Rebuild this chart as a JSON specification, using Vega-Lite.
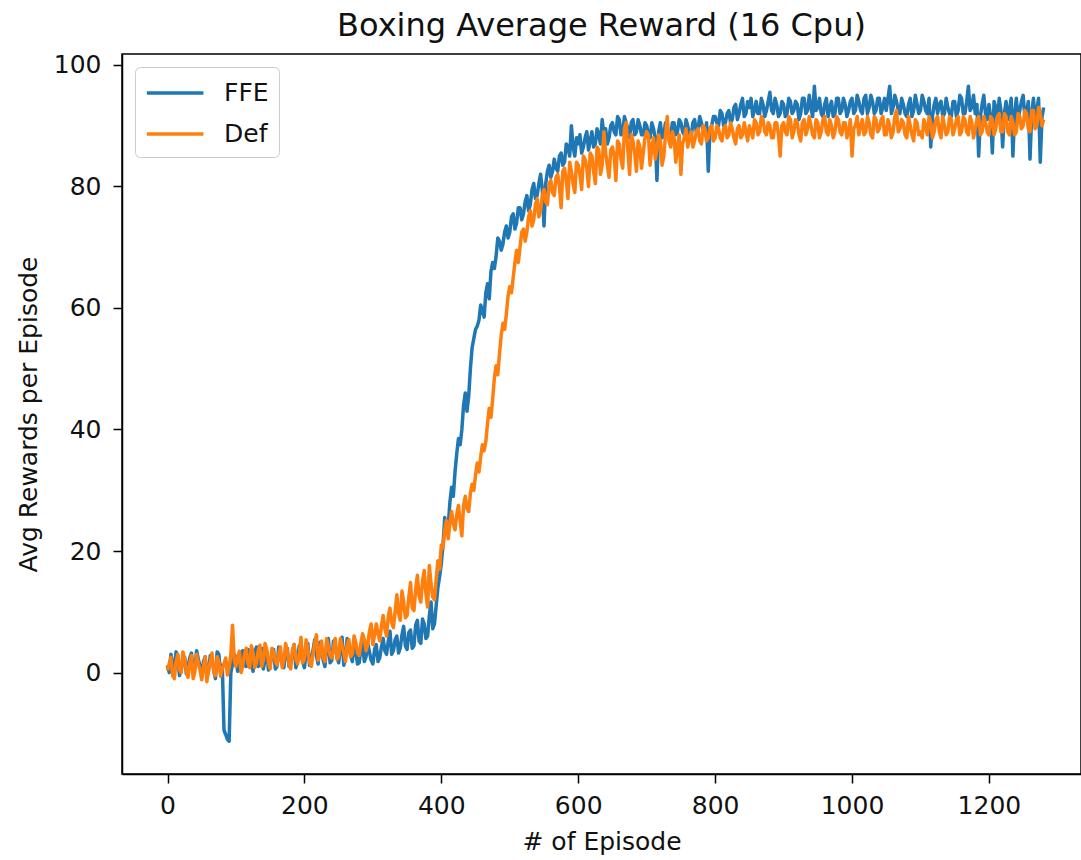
{
"$schema": "https://vega.github.io/schema/vega-lite/v6.json",
"width": 959,
"height": 720,
"autosize": {"type": "none"},
"padding": {"left": 122, "top": 54, "right": 0, "bottom": 86},
"background": "white",
"title": {"text": "Boxing Average Reward (16 Cpu)", "font": "DejaVu Sans", "fontSize": 32, "fontWeight": "normal", "color": "#111", "anchor": "middle", "baseline": "alphabetic", "offset": 17, "dy": 32},
"config": {
  "view": {"stroke": "#000", "strokeWidth": 1.5},
  "axis": {"grid": false, "domainColor": "#000", "domainWidth": 1.5, "tickColor": "#000", "tickWidth": 1.5, "tickSize": 9, "labelFont": "DejaVu Sans", "labelFontSize": 25, "labelColor": "#111", "titleFont": "DejaVu Sans", "titleFontSize": 25, "titleFontWeight": "normal", "titleColor": "#111"},
  "legend": {"labelFont": "DejaVu Sans", "labelFontSize": 25, "labelColor": "#111"}
},
"data": {"values": [
{"e":0,"FFE":1.2,"Def":0.3},{"e":5,"FFE":3.0,"Def":2.5},{"e":10,"FFE":0.2,"Def":-1.0},{"e":15,"FFE":2.8,"Def":3.0},{"e":20,"FFE":0.5,"Def":0.0},{"e":25,"FFE":2.5,"Def":2.2},{"e":30,"FFE":1.0,"Def":-0.8},{"e":35,"FFE":3.2,"Def":2.8},{"e":40,"FFE":0.8,"Def":0.2},{"e":45,"FFE":2.2,"Def":1.5},
{"e":50,"FFE":-0.5,"Def":-1.2},{"e":55,"FFE":2.6,"Def":2.6},{"e":60,"FFE":0.3,"Def":0.5},{"e":65,"FFE":2.0,"Def":3.2},{"e":70,"FFE":-1.0,"Def":-0.5},{"e":75,"FFE":3.0,"Def":1.8},{"e":80,"FFE":1.2,"Def":0.6},{"e":85,"FFE":-10.2,"Def":2.4},{"e":90,"FFE":-11.3,"Def":0.8},{"e":95,"FFE":1.4,"Def":7.8},
{"e":100,"FFE":2.5,"Def":1.0},{"e":105,"FFE":0.5,"Def":3.5},{"e":110,"FFE":3.6,"Def":1.2},{"e":115,"FFE":1.0,"Def":4.0},{"e":120,"FFE":3.0,"Def":0.8},{"e":125,"FFE":0.2,"Def":3.2},{"e":130,"FFE":4.2,"Def":1.6},{"e":135,"FFE":1.8,"Def":4.5},{"e":140,"FFE":0.6,"Def":2.0},{"e":145,"FFE":3.4,"Def":3.8},
{"e":150,"FFE":1.4,"Def":0.6},{"e":155,"FFE":3.8,"Def":3.4},{"e":160,"FFE":1.0,"Def":1.2},{"e":165,"FFE":2.6,"Def":4.2},{"e":170,"FFE":0.8,"Def":2.0},{"e":175,"FFE":4.0,"Def":3.6},{"e":180,"FFE":1.6,"Def":0.6},{"e":185,"FFE":4.6,"Def":4.6},{"e":190,"FFE":1.8,"Def":1.4},{"e":195,"FFE":3.0,"Def":5.8},
{"e":200,"FFE":0.8,"Def":2.2},{"e":205,"FFE":4.8,"Def":3.8},{"e":210,"FFE":2.2,"Def":1.0},{"e":215,"FFE":5.4,"Def":4.8},{"e":220,"FFE":1.4,"Def":2.0},{"e":225,"FFE":3.8,"Def":5.2},{"e":230,"FFE":1.0,"Def":1.8},{"e":235,"FFE":5.6,"Def":4.2},{"e":240,"FFE":2.0,"Def":2.4},{"e":245,"FFE":4.4,"Def":5.6},
{"e":250,"FFE":1.6,"Def":2.6},{"e":255,"FFE":5.8,"Def":4.4},{"e":260,"FFE":2.4,"Def":1.8},{"e":265,"FFE":4.2,"Def":5.4},{"e":270,"FFE":1.8,"Def":3.0},{"e":275,"FFE":3.6,"Def":5.0},{"e":280,"FFE":1.6,"Def":2.8},{"e":285,"FFE":4.8,"Def":6.4},{"e":290,"FFE":2.6,"Def":3.6},{"e":295,"FFE":3.4,"Def":6.8},
{"e":300,"FFE":1.4,"Def":4.6},{"e":305,"FFE":4.6,"Def":8.0},{"e":310,"FFE":2.4,"Def":5.2},{"e":315,"FFE":5.6,"Def":9.4},{"e":320,"FFE":3.0,"Def":6.0},{"e":325,"FFE":6.8,"Def":10.6},{"e":330,"FFE":3.6,"Def":7.4},{"e":335,"FFE":6.0,"Def":12.8},{"e":340,"FFE":4.0,"Def":8.6},{"e":345,"FFE":7.6,"Def":11.6},
{"e":350,"FFE":3.8,"Def":9.4},{"e":355,"FFE":7.0,"Def":14.8},{"e":360,"FFE":4.4,"Def":10.2},{"e":365,"FFE":8.6,"Def":16.0},{"e":370,"FFE":4.8,"Def":11.6},{"e":375,"FFE":8.0,"Def":16.8},{"e":380,"FFE":6.0,"Def":10.8},{"e":385,"FFE":11.6,"Def":14.6},{"e":390,"FFE":8.0,"Def":12.0},{"e":395,"FFE":14.0,"Def":18.4},
{"e":400,"FFE":18.0,"Def":21.0},{"e":405,"FFE":25.5,"Def":23.5},{"e":410,"FFE":24.0,"Def":22.0},{"e":415,"FFE":30.5,"Def":26.5},{"e":420,"FFE":33.0,"Def":23.5},{"e":425,"FFE":38.5,"Def":27.5},{"e":430,"FFE":40.0,"Def":22.5},{"e":435,"FFE":46.0,"Def":29.0},{"e":440,"FFE":45.5,"Def":26.5},{"e":445,"FFE":53.5,"Def":31.0},
{"e":450,"FFE":56.5,"Def":32.5},{"e":455,"FFE":58.0,"Def":33.0},{"e":460,"FFE":59.5,"Def":37.5},{"e":465,"FFE":62.5,"Def":38.0},{"e":470,"FFE":61.5,"Def":43.5},{"e":475,"FFE":67.5,"Def":45.0},{"e":480,"FFE":68.5,"Def":50.5},{"e":485,"FFE":71.0,"Def":52.5},{"e":490,"FFE":70.5,"Def":57.5},{"e":495,"FFE":73.5,"Def":59.0},
{"e":500,"FFE":72.5,"Def":63.5},{"e":505,"FFE":75.5,"Def":65.0},{"e":510,"FFE":74.0,"Def":69.5},{"e":515,"FFE":76.5,"Def":70.0},{"e":520,"FFE":75.5,"Def":73.0},{"e":525,"FFE":78.5,"Def":72.5},{"e":530,"FFE":77.0,"Def":76.0},{"e":535,"FFE":80.5,"Def":74.5},{"e":540,"FFE":78.5,"Def":78.0},{"e":545,"FFE":82.0,"Def":76.0},
{"e":550,"FFE":73.5,"Def":79.5},{"e":555,"FFE":82.5,"Def":77.0},{"e":560,"FFE":81.5,"Def":81.0},{"e":565,"FFE":84.5,"Def":78.5},{"e":570,"FFE":82.5,"Def":82.0},{"e":575,"FFE":85.5,"Def":76.5},{"e":580,"FFE":84.0,"Def":83.0},{"e":585,"FFE":86.5,"Def":78.0},{"e":590,"FFE":90.0,"Def":82.5},{"e":595,"FFE":85.0,"Def":79.0},
{"e":600,"FFE":87.0,"Def":83.5},{"e":605,"FFE":85.5,"Def":79.5},{"e":610,"FFE":88.0,"Def":84.5},{"e":615,"FFE":86.0,"Def":80.0},{"e":620,"FFE":89.0,"Def":85.0},{"e":625,"FFE":87.0,"Def":80.5},{"e":630,"FFE":88.5,"Def":86.0},{"e":635,"FFE":91.0,"Def":83.5},{"e":640,"FFE":89.5,"Def":85.5},{"e":645,"FFE":88.0,"Def":81.5},
{"e":650,"FFE":90.5,"Def":86.5},{"e":655,"FFE":88.5,"Def":81.0},{"e":660,"FFE":91.0,"Def":87.0},{"e":665,"FFE":89.0,"Def":83.0},{"e":670,"FFE":90.5,"Def":90.5},{"e":675,"FFE":88.0,"Def":82.0},{"e":680,"FFE":91.0,"Def":87.5},{"e":685,"FFE":89.0,"Def":82.5},{"e":690,"FFE":90.0,"Def":86.5},{"e":695,"FFE":88.5,"Def":85.5},
{"e":700,"FFE":90.0,"Def":89.0},{"e":705,"FFE":88.0,"Def":83.5},{"e":710,"FFE":89.5,"Def":88.0},{"e":715,"FFE":81.0,"Def":86.0},{"e":720,"FFE":90.5,"Def":87.5},{"e":725,"FFE":88.5,"Def":85.0},{"e":730,"FFE":89.5,"Def":91.5},{"e":735,"FFE":88.0,"Def":86.5},{"e":740,"FFE":90.5,"Def":88.0},{"e":745,"FFE":89.0,"Def":86.5},
{"e":750,"FFE":90.5,"Def":82.0},{"e":755,"FFE":88.5,"Def":88.0},{"e":760,"FFE":90.0,"Def":86.5},{"e":765,"FFE":88.0,"Def":89.0},{"e":770,"FFE":91.0,"Def":87.5},{"e":775,"FFE":89.5,"Def":89.5},{"e":780,"FFE":90.5,"Def":87.0},{"e":785,"FFE":88.5,"Def":89.5},{"e":790,"FFE":82.5,"Def":88.0},{"e":795,"FFE":90.0,"Def":90.0},
{"e":800,"FFE":91.5,"Def":88.0},{"e":805,"FFE":90.0,"Def":89.5},{"e":810,"FFE":92.0,"Def":87.5},{"e":815,"FFE":90.5,"Def":90.0},{"e":820,"FFE":92.5,"Def":88.5},{"e":825,"FFE":91.0,"Def":89.5},{"e":830,"FFE":93.5,"Def":87.0},{"e":835,"FFE":92.0,"Def":90.0},{"e":840,"FFE":94.5,"Def":88.5},{"e":845,"FFE":92.0,"Def":89.0},
{"e":850,"FFE":93.0,"Def":90.0},{"e":855,"FFE":91.5,"Def":88.0},{"e":860,"FFE":94.0,"Def":90.5},{"e":865,"FFE":92.0,"Def":89.0},{"e":870,"FFE":93.5,"Def":91.0},{"e":875,"FFE":92.5,"Def":88.5},{"e":880,"FFE":95.5,"Def":90.0},{"e":885,"FFE":92.0,"Def":88.0},{"e":890,"FFE":93.5,"Def":90.5},{"e":895,"FFE":92.0,"Def":85.0},
{"e":900,"FFE":93.5,"Def":90.5},{"e":905,"FFE":92.0,"Def":88.5},{"e":910,"FFE":94.0,"Def":91.0},{"e":915,"FFE":92.5,"Def":89.0},{"e":920,"FFE":93.5,"Def":90.5},{"e":925,"FFE":92.0,"Def":87.5},{"e":930,"FFE":94.5,"Def":91.0},{"e":935,"FFE":92.5,"Def":89.5},{"e":940,"FFE":93.0,"Def":90.0},{"e":945,"FFE":96.5,"Def":88.0},
{"e":950,"FFE":93.0,"Def":90.5},{"e":955,"FFE":92.0,"Def":89.0},{"e":960,"FFE":93.5,"Def":91.5},{"e":965,"FFE":91.5,"Def":88.5},{"e":970,"FFE":94.0,"Def":90.0},{"e":975,"FFE":92.0,"Def":89.0},{"e":980,"FFE":94.5,"Def":91.0},{"e":985,"FFE":92.5,"Def":88.5},{"e":990,"FFE":93.5,"Def":90.5},{"e":995,"FFE":92.5,"Def":89.0},
{"e":1000,"FFE":94.5,"Def":85.0},{"e":1005,"FFE":92.5,"Def":90.0},{"e":1010,"FFE":94.0,"Def":88.5},{"e":1015,"FFE":92.0,"Def":91.0},{"e":1020,"FFE":95.0,"Def":89.0},{"e":1025,"FFE":93.0,"Def":90.5},{"e":1030,"FFE":94.0,"Def":88.0},{"e":1035,"FFE":92.5,"Def":91.0},{"e":1040,"FFE":94.5,"Def":89.5},{"e":1045,"FFE":93.0,"Def":91.5},
{"e":1050,"FFE":92.5,"Def":88.5},{"e":1055,"FFE":96.5,"Def":90.0},{"e":1060,"FFE":93.0,"Def":89.0},{"e":1065,"FFE":94.0,"Def":92.5},{"e":1070,"FFE":92.0,"Def":89.5},{"e":1075,"FFE":93.5,"Def":90.5},{"e":1080,"FFE":91.5,"Def":88.0},{"e":1085,"FFE":94.5,"Def":90.0},{"e":1090,"FFE":92.5,"Def":87.5},{"e":1095,"FFE":93.5,"Def":90.5},
{"e":1100,"FFE":92.5,"Def":89.0},{"e":1105,"FFE":94.0,"Def":91.0},{"e":1110,"FFE":92.0,"Def":88.5},{"e":1115,"FFE":86.5,"Def":90.5},{"e":1120,"FFE":93.5,"Def":89.0},{"e":1125,"FFE":92.0,"Def":91.5},{"e":1130,"FFE":94.0,"Def":88.0},{"e":1135,"FFE":92.0,"Def":90.0},{"e":1140,"FFE":93.0,"Def":89.0},{"e":1145,"FFE":91.5,"Def":91.0},
{"e":1150,"FFE":94.0,"Def":89.5},{"e":1155,"FFE":92.5,"Def":91.5},{"e":1160,"FFE":94.5,"Def":89.0},{"e":1165,"FFE":92.0,"Def":91.0},{"e":1170,"FFE":96.5,"Def":88.5},{"e":1175,"FFE":93.0,"Def":90.5},{"e":1180,"FFE":92.0,"Def":89.5},{"e":1185,"FFE":85.0,"Def":91.5},{"e":1190,"FFE":93.5,"Def":89.0},{"e":1195,"FFE":92.0,"Def":90.5},
{"e":1200,"FFE":93.5,"Def":88.5},{"e":1205,"FFE":85.5,"Def":91.0},{"e":1210,"FFE":93.0,"Def":89.5},{"e":1215,"FFE":94.5,"Def":92.0},{"e":1220,"FFE":86.5,"Def":89.0},{"e":1225,"FFE":94.0,"Def":91.5},{"e":1230,"FFE":92.5,"Def":88.5},{"e":1235,"FFE":85.0,"Def":90.5},{"e":1240,"FFE":94.5,"Def":89.0},{"e":1245,"FFE":92.5,"Def":91.5},
{"e":1250,"FFE":95.0,"Def":90.0},{"e":1255,"FFE":92.0,"Def":92.0},{"e":1260,"FFE":84.5,"Def":89.0},{"e":1265,"FFE":94.5,"Def":92.5},{"e":1270,"FFE":92.5,"Def":90.0},{"e":1275,"FFE":84.0,"Def":92.0},{"e":1280,"FFE":93.0,"Def":91.0},
{"e":2.5,"FFE":0.0,"Def":1.5},{"e":7.5,"FFE":1.5,"Def":-0.5},{"e":12.5,"FFE":3.4,"Def":1.8},{"e":17.5,"FFE":-0.5,"Def":0.5},{"e":22.5,"FFE":2.0,"Def":3.4},{"e":27.5,"FFE":-0.2,"Def":0.2},{"e":32.5,"FFE":2.4,"Def":1.6},{"e":37.5,"FFE":0.0,"Def":-1.0},{"e":42.5,"FFE":3.6,"Def":3.0},{"e":47.5,"FFE":1.0,"Def":0.4},
{"e":52.5,"FFE":1.8,"Def":1.0},{"e":57.5,"FFE":-0.8,"Def":-1.5},{"e":62.5,"FFE":2.8,"Def":1.8},{"e":67.5,"FFE":0.6,"Def":0.0},{"e":72.5,"FFE":3.4,"Def":2.6},{"e":77.5,"FFE":0.0,"Def":-0.6},{"e":82.5,"FFE":-9.5,"Def":1.4},{"e":87.5,"FFE":-11.0,"Def":-0.4},{"e":92.5,"FFE":0.0,"Def":3.0},{"e":97.5,"FFE":3.0,"Def":2.0},
{"e":102.5,"FFE":0.2,"Def":2.4},{"e":107.5,"FFE":3.2,"Def":0.0},{"e":112.5,"FFE":1.2,"Def":3.0},{"e":117.5,"FFE":3.8,"Def":1.5},{"e":122.5,"FFE":1.4,"Def":4.4},{"e":127.5,"FFE":3.4,"Def":0.8},{"e":132.5,"FFE":1.0,"Def":3.6},{"e":137.5,"FFE":4.0,"Def":1.0},{"e":142.5,"FFE":2.2,"Def":4.8},{"e":147.5,"FFE":0.4,"Def":1.6},
{"e":152.5,"FFE":2.8,"Def":4.0},{"e":157.5,"FFE":0.6,"Def":1.8},{"e":162.5,"FFE":4.2,"Def":3.0},{"e":167.5,"FFE":1.4,"Def":0.8},{"e":172.5,"FFE":3.4,"Def":4.8},{"e":177.5,"FFE":1.0,"Def":1.4},{"e":182.5,"FFE":3.0,"Def":3.8},{"e":187.5,"FFE":0.8,"Def":2.2},{"e":192.5,"FFE":4.4,"Def":3.0},{"e":197.5,"FFE":1.8,"Def":1.6},
{"e":202.5,"FFE":3.4,"Def":5.4},{"e":207.5,"FFE":1.2,"Def":1.6},{"e":212.5,"FFE":3.6,"Def":3.0},{"e":217.5,"FFE":2.8,"Def":6.2},{"e":222.5,"FFE":5.0,"Def":3.2},{"e":227.5,"FFE":2.0,"Def":2.4},{"e":232.5,"FFE":4.4,"Def":5.6},{"e":237.5,"FFE":1.6,"Def":2.8},{"e":242.5,"FFE":5.2,"Def":4.0},{"e":247.5,"FFE":2.6,"Def":2.2},
{"e":252.5,"FFE":4.0,"Def":5.6},{"e":257.5,"FFE":1.2,"Def":3.2},{"e":262.5,"FFE":5.6,"Def":4.6},{"e":267.5,"FFE":2.8,"Def":2.6},{"e":272.5,"FFE":4.6,"Def":6.0},{"e":277.5,"FFE":1.4,"Def":3.2},{"e":282.5,"FFE":3.8,"Def":4.8},{"e":287.5,"FFE":1.8,"Def":5.4},{"e":292.5,"FFE":4.8,"Def":4.6},{"e":297.5,"FFE":2.0,"Def":8.0},
{"e":302.5,"FFE":3.8,"Def":6.2},{"e":307.5,"FFE":1.8,"Def":6.4},{"e":312.5,"FFE":4.2,"Def":7.6},{"e":317.5,"FFE":3.6,"Def":7.2},{"e":322.5,"FFE":5.2,"Def":9.2},{"e":327.5,"FFE":3.0,"Def":8.2},{"e":332.5,"FFE":5.4,"Def":10.0},{"e":337.5,"FFE":3.2,"Def":9.8},{"e":342.5,"FFE":6.2,"Def":13.4},{"e":347.5,"FFE":4.4,"Def":9.0},
{"e":352.5,"FFE":6.6,"Def":12.4},{"e":357.5,"FFE":4.0,"Def":10.6},{"e":362.5,"FFE":7.8,"Def":13.6},{"e":367.5,"FFE":5.2,"Def":12.6},{"e":372.5,"FFE":8.8,"Def":15.0},{"e":377.5,"FFE":5.6,"Def":13.0},{"e":382.5,"FFE":9.4,"Def":17.6},{"e":387.5,"FFE":7.2,"Def":12.4},{"e":392.5,"FFE":11.0,"Def":15.4},{"e":397.5,"FFE":15.8,"Def":17.0},
{"e":402.5,"FFE":21.0,"Def":20.5},{"e":407.5,"FFE":23.0,"Def":25.0},{"e":412.5,"FFE":28.0,"Def":24.5},{"e":417.5,"FFE":29.0,"Def":24.5},{"e":422.5,"FFE":36.0,"Def":26.0},{"e":427.5,"FFE":37.5,"Def":25.0},{"e":432.5,"FFE":44.0,"Def":27.5},{"e":437.5,"FFE":43.0,"Def":27.0},{"e":442.5,"FFE":50.0,"Def":29.5},{"e":447.5,"FFE":55.0,"Def":30.0},
{"e":452.5,"FFE":57.0,"Def":34.5},{"e":457.5,"FFE":60.5,"Def":35.5},{"e":462.5,"FFE":58.5,"Def":36.5},{"e":467.5,"FFE":64.0,"Def":41.0},{"e":472.5,"FFE":66.0,"Def":42.0},{"e":477.5,"FFE":66.5,"Def":48.5},{"e":482.5,"FFE":71.5,"Def":49.0},{"e":487.5,"FFE":69.5,"Def":55.5},{"e":492.5,"FFE":72.5,"Def":56.5},{"e":497.5,"FFE":71.5,"Def":62.0},
{"e":502.5,"FFE":75.0,"Def":62.5},{"e":507.5,"FFE":73.0,"Def":67.5},{"e":512.5,"FFE":76.5,"Def":67.5},{"e":517.5,"FFE":74.5,"Def":72.5},{"e":522.5,"FFE":77.5,"Def":71.0},{"e":527.5,"FFE":76.0,"Def":75.0},{"e":532.5,"FFE":79.5,"Def":73.5},{"e":537.5,"FFE":78.0,"Def":77.0},{"e":542.5,"FFE":80.5,"Def":75.0},{"e":547.5,"FFE":79.5,"Def":78.5},
{"e":552.5,"FFE":80.5,"Def":77.5},{"e":557.5,"FFE":83.5,"Def":80.5},{"e":562.5,"FFE":82.5,"Def":79.0},{"e":567.5,"FFE":83.0,"Def":81.5},{"e":572.5,"FFE":85.0,"Def":80.0},{"e":577.5,"FFE":83.5,"Def":82.5},{"e":582.5,"FFE":87.0,"Def":81.0},{"e":587.5,"FFE":85.0,"Def":84.0},{"e":592.5,"FFE":86.5,"Def":80.5},{"e":597.5,"FFE":88.0,"Def":84.0},
{"e":602.5,"FFE":88.5,"Def":82.0},{"e":607.5,"FFE":86.5,"Def":85.0},{"e":612.5,"FFE":89.0,"Def":83.0},{"e":617.5,"FFE":87.5,"Def":85.5},{"e":622.5,"FFE":86.5,"Def":82.5},{"e":627.5,"FFE":89.5,"Def":86.5},{"e":632.5,"FFE":87.0,"Def":82.0},{"e":637.5,"FFE":88.5,"Def":89.0},{"e":642.5,"FFE":87.0,"Def":83.5},{"e":647.5,"FFE":90.0,"Def":86.0},
{"e":652.5,"FFE":89.0,"Def":85.0},{"e":657.5,"FFE":91.5,"Def":87.5},{"e":662.5,"FFE":88.5,"Def":84.5},{"e":667.5,"FFE":91.5,"Def":89.5},{"e":672.5,"FFE":89.5,"Def":86.0},{"e":677.5,"FFE":90.5,"Def":88.5},{"e":682.5,"FFE":88.5,"Def":85.5},{"e":687.5,"FFE":91.0,"Def":87.5},{"e":692.5,"FFE":88.5,"Def":83.0},{"e":697.5,"FFE":90.5,"Def":88.0},
{"e":702.5,"FFE":88.5,"Def":88.5},{"e":707.5,"FFE":90.5,"Def":86.5},{"e":712.5,"FFE":88.0,"Def":84.5},{"e":717.5,"FFE":89.0,"Def":88.5},{"e":722.5,"FFE":88.0,"Def":83.5},{"e":727.5,"FFE":90.5,"Def":88.5},{"e":732.5,"FFE":88.5,"Def":87.5},{"e":737.5,"FFE":90.5,"Def":89.0},{"e":742.5,"FFE":88.5,"Def":84.0},{"e":747.5,"FFE":91.0,"Def":88.5},
{"e":752.5,"FFE":89.0,"Def":87.0},{"e":757.5,"FFE":91.0,"Def":89.5},{"e":762.5,"FFE":88.5,"Def":88.0},{"e":767.5,"FFE":90.5,"Def":86.5},{"e":772.5,"FFE":89.0,"Def":89.0},{"e":777.5,"FFE":91.5,"Def":87.5},{"e":782.5,"FFE":89.0,"Def":90.0},{"e":787.5,"FFE":90.5,"Def":87.5},{"e":792.5,"FFE":89.5,"Def":89.5},{"e":797.5,"FFE":91.5,"Def":87.5},
{"e":802.5,"FFE":90.5,"Def":90.0},{"e":807.5,"FFE":92.5,"Def":88.0},{"e":812.5,"FFE":90.0,"Def":89.5},{"e":817.5,"FFE":92.0,"Def":88.0},{"e":822.5,"FFE":90.5,"Def":90.5},{"e":827.5,"FFE":93.0,"Def":88.0},{"e":832.5,"FFE":91.0,"Def":89.5},{"e":837.5,"FFE":93.5,"Def":88.0},{"e":842.5,"FFE":91.5,"Def":90.5},{"e":847.5,"FFE":94.0,"Def":87.5},
{"e":852.5,"FFE":94.5,"Def":89.0},{"e":857.5,"FFE":92.5,"Def":91.0},{"e":862.5,"FFE":92.0,"Def":88.5},{"e":867.5,"FFE":94.5,"Def":91.5},{"e":872.5,"FFE":91.5,"Def":89.0},{"e":877.5,"FFE":94.0,"Def":90.5},{"e":882.5,"FFE":92.5,"Def":88.0},{"e":887.5,"FFE":94.5,"Def":90.5},{"e":892.5,"FFE":91.5,"Def":88.5},{"e":897.5,"FFE":94.0,"Def":90.0},
{"e":902.5,"FFE":91.5,"Def":89.0},{"e":907.5,"FFE":94.5,"Def":91.5},{"e":912.5,"FFE":92.0,"Def":88.0},{"e":917.5,"FFE":94.0,"Def":91.0},{"e":922.5,"FFE":91.0,"Def":88.5},{"e":927.5,"FFE":94.5,"Def":90.5},{"e":932.5,"FFE":92.0,"Def":88.5},{"e":937.5,"FFE":95.0,"Def":91.5},{"e":942.5,"FFE":91.5,"Def":88.5},{"e":947.5,"FFE":92.5,"Def":91.0},
{"e":952.5,"FFE":94.5,"Def":88.0},{"e":957.5,"FFE":91.5,"Def":91.0},{"e":962.5,"FFE":94.5,"Def":89.0},{"e":967.5,"FFE":93.0,"Def":91.0},{"e":972.5,"FFE":91.5,"Def":88.0},{"e":977.5,"FFE":94.5,"Def":91.5},{"e":982.5,"FFE":92.0,"Def":89.0},{"e":987.5,"FFE":94.5,"Def":90.5},{"e":992.5,"FFE":91.5,"Def":88.0},{"e":997.5,"FFE":94.0,"Def":91.0},
{"e":1002.5,"FFE":92.0,"Def":89.5},{"e":1007.5,"FFE":95.0,"Def":91.5},{"e":1012.5,"FFE":92.5,"Def":90.0},{"e":1017.5,"FFE":94.5,"Def":88.5},{"e":1022.5,"FFE":92.0,"Def":91.5},{"e":1027.5,"FFE":95.0,"Def":88.5},{"e":1032.5,"FFE":92.0,"Def":91.5},{"e":1037.5,"FFE":94.5,"Def":89.0},{"e":1042.5,"FFE":92.0,"Def":91.0},{"e":1047.5,"FFE":94.5,"Def":88.5},
{"e":1052.5,"FFE":94.5,"Def":91.0},{"e":1057.5,"FFE":92.0,"Def":88.0},{"e":1062.5,"FFE":95.0,"Def":91.5},{"e":1067.5,"FFE":92.5,"Def":89.0},{"e":1072.5,"FFE":94.5,"Def":91.0},{"e":1077.5,"FFE":92.0,"Def":88.5},{"e":1082.5,"FFE":93.5,"Def":91.5},{"e":1087.5,"FFE":91.5,"Def":88.5},{"e":1092.5,"FFE":95.0,"Def":91.0},{"e":1097.5,"FFE":92.0,"Def":88.5},
{"e":1102.5,"FFE":95.0,"Def":88.0},{"e":1107.5,"FFE":92.5,"Def":90.0},{"e":1112.5,"FFE":94.5,"Def":91.5},{"e":1117.5,"FFE":91.5,"Def":88.0},{"e":1122.5,"FFE":94.5,"Def":91.0},{"e":1127.5,"FFE":93.5,"Def":89.0},{"e":1132.5,"FFE":91.5,"Def":91.5},{"e":1137.5,"FFE":94.5,"Def":88.5},{"e":1142.5,"FFE":92.0,"Def":91.5},{"e":1147.5,"FFE":94.0,"Def":88.5},
{"e":1152.5,"FFE":91.5,"Def":91.0},{"e":1157.5,"FFE":95.0,"Def":88.5},{"e":1162.5,"FFE":92.0,"Def":91.5},{"e":1167.5,"FFE":94.0,"Def":89.0},{"e":1172.5,"FFE":92.5,"Def":91.5},{"e":1177.5,"FFE":95.0,"Def":88.0},{"e":1182.5,"FFE":93.5,"Def":91.0},{"e":1187.5,"FFE":91.5,"Def":88.5},{"e":1192.5,"FFE":95.0,"Def":91.5},{"e":1197.5,"FFE":91.0,"Def":89.0},
{"e":1202.5,"FFE":91.5,"Def":91.5},{"e":1207.5,"FFE":94.0,"Def":88.5},{"e":1212.5,"FFE":91.0,"Def":91.5},{"e":1217.5,"FFE":92.5,"Def":89.0},{"e":1222.5,"FFE":92.0,"Def":92.0},{"e":1227.5,"FFE":91.0,"Def":89.0},{"e":1232.5,"FFE":94.5,"Def":91.5},{"e":1237.5,"FFE":92.0,"Def":88.5},{"e":1242.5,"FFE":91.0,"Def":92.0},{"e":1247.5,"FFE":94.0,"Def":89.5},
{"e":1252.5,"FFE":91.5,"Def":92.5},{"e":1257.5,"FFE":94.0,"Def":89.5},{"e":1262.5,"FFE":92.0,"Def":92.5},{"e":1267.5,"FFE":91.0,"Def":89.5},{"e":1272.5,"FFE":94.5,"Def":93.0},{"e":1277.5,"FFE":91.5,"Def":90.0}
]},
"transform": [{"fold": ["FFE", "Def"], "as": ["series", "v"]}],
"encoding": {
  "x": {"field": "e", "type": "quantitative", "scale": {"domain": [-66.5, 1334.5], "nice": false, "zero": false}, "axis": {"values": [0, 200, 400, 600, 800, 1000, 1200], "format": "d", "title": "# of Episode", "labelPadding": 10, "titlePadding": 11}},
  "y": {"field": "v", "type": "quantitative", "scale": {"domain": [-16.7, 101.8], "nice": false, "zero": false}, "axis": {"values": [0, 20, 40, 60, 80, 100], "format": "d", "title": "Avg Rewards per Episode", "labelPadding": 12, "titlePadding": 12}},
  "color": {"field": "series", "type": "nominal", "scale": {"domain": ["FFE", "Def"], "range": ["#1f77b4", "#ff7f0e"]},
    "legend": {"title": null, "orient": "top-left", "offset": 13, "padding": 10, "symbolType": "M-1,0H3", "symbolSize": 800, "symbolStrokeWidth": 3.5, "labelOffset": 47, "rowPadding": 12, "strokeColor": "#cccccc", "cornerRadius": 5, "fillColor": "rgba(255,255,255,0.8)", "labelLimit": 300}}
},
"layer": [
  {"transform": [{"filter": "datum.series === 'FFE'"}], "mark": {"type": "line", "strokeWidth": 3.5, "strokeJoin": "round", "clip": true}},
  {"transform": [{"filter": "datum.series === 'Def'"}], "mark": {"type": "line", "strokeWidth": 3.5, "strokeJoin": "round", "clip": true}}
]
}
